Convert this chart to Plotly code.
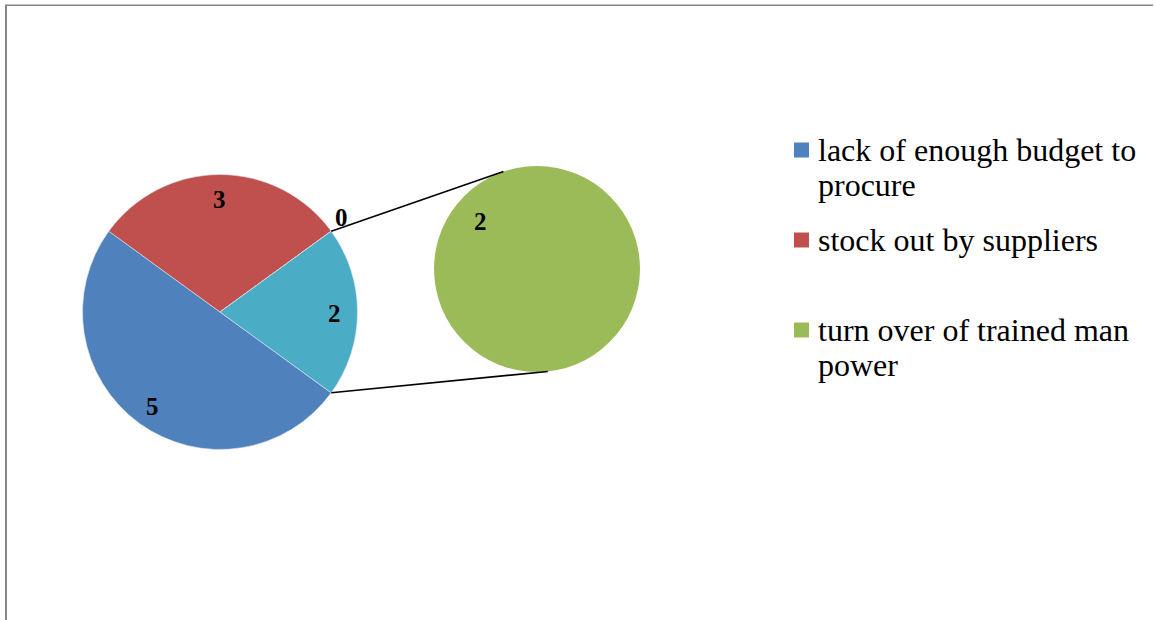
import math
import plotly.graph_objects as go

# Survey responses: reasons for stock-outs
categories = [
    "lack of enough budget to procure",
    "stock out by suppliers",
    "",
    "turn over of trained man power",
]
values = [5, 3, 0, 2]
n_secondary = 1  # last point(s) split off into the secondary pie

legend_lines = [
    ["lack of enough budget to", "procure"],
    ["stock out by suppliers"],
    [],
    ["turn over of trained man", "power"],
]

colors = ["#4F81BD", "#C0504D", "#FFFFFF", "#9BBB59"]
other_color = "#4BACC6"

W, H = 1154, 620

# pixel geometry of the two pies
main_c, main_r = (220, 312), 137.5
sec_c, sec_r = (537, 269), 103


def px(x):
    return x / W


def py(y):
    return 1 - y / H


def domain(c, r):
    return dict(x=[px(c[0] - r), px(c[0] + r)], y=[py(c[1] + r), py(c[1] - r)])


primary_vals = values[:-n_secondary]
secondary_vals = values[-n_secondary:]
other_val = sum(secondary_vals)
main_vals = primary_vals + [other_val]
main_cols = colors[:-n_secondary] + [other_color]
total = sum(main_vals)

# "Other" slice centred on 3 o'clock; angles clockwise from 12 o'clock
other_deg = other_val / total * 360
rotation = 90 + other_deg / 2

fig = go.Figure()
fig.add_trace(go.Pie(
    values=main_vals,
    labels=categories[:-n_secondary] + ["Other"],
    marker=dict(colors=main_cols, line=dict(width=0.6, color="#dfe6f0")),
    sort=False, direction="clockwise", rotation=rotation,
    textinfo="none", hoverinfo="label+value",
    domain=domain(main_c, main_r), showlegend=False,
))
fig.add_trace(go.Pie(
    values=secondary_vals,
    labels=categories[-n_secondary:],
    marker=dict(colors=colors[-n_secondary:], line=dict(width=0)),
    sort=False, direction="clockwise", rotation=0,
    textinfo="none", hoverinfo="label+value",
    domain=domain(sec_c, sec_r), showlegend=False,
))


def polar(c, r, ang_cw):
    a = math.radians(ang_cw)
    return c[0] + r * math.sin(a), c[1] - r * math.cos(a)


annotations = []
label_font = dict(family="Liberation Serif", size=25, color="black")


def add_label(x, y, v):
    annotations.append(dict(x=px(x), y=py(y + 2), xref="paper", yref="paper",
                            text=f"<b>{v}</b>", showarrow=False, font=label_font,
                            xanchor="center", yanchor="middle"))


# data labels on the main pie
start = rotation
for v in main_vals:
    span = v / total * 360
    if v == 0:
        # zero-width slice: label sits just outside the rim at its edge
        x, y = polar(main_c, main_r * 1.12, start - 2)
        y -= 2
    else:
        x, y = polar(main_c, main_r * 0.835, start + span / 2)
    add_label(x, y, v)
    start += span

# data labels on the secondary pie (single full slice)
for v in secondary_vals:
    x, y = polar(sec_c, sec_r * 0.72, -50)
    add_label(x, y - 2, v)

shapes = []

# connector lines from the "Other" slice edges to the secondary pie
p_top = polar(main_c, main_r, rotation - other_deg)
p_bot = polar(main_c, main_r, rotation)
q_top = polar(sec_c, sec_r, -19)
q_bot = polar(sec_c, sec_r, 174)
for p, q in [(p_top, q_top), (p_bot, q_bot)]:
    shapes.append(dict(type="line", xref="paper", yref="paper",
                       x0=px(p[0]), y0=py(p[1]), x1=px(q[0]), y1=py(q[1]),
                       line=dict(color="black", width=1.6)))

# legend: one swatch per category, text wrapped over up to two lines
leg_font = dict(family="Liberation Serif", size=32, color="black")
leg_y = 150
for i, lines in enumerate(legend_lines):
    if lines:
        shapes.append(dict(type="rect", xref="paper", yref="paper",
                           x0=px(794), x1=px(809), y0=py(leg_y - 7.5), y1=py(leg_y + 7.5),
                           fillcolor=colors[i], line=dict(width=0)))
    for j, t in enumerate(lines):
        base = leg_y + 10.5 + 35.5 * j
        annotations.append(dict(x=px(817), y=py(base - 10.8), xref="paper", yref="paper",
                                text=t, showarrow=False, font=leg_font,
                                xanchor="left", yanchor="middle", borderpad=0))
    leg_y += 45 * max(1, len(lines))

# chart-area border (top and left edges)
shapes.append(dict(type="line", xref="paper", yref="paper",
                   x0=px(5), x1=px(1153), y0=py(5.3), y1=py(5.3),
                   line=dict(color="#868686", width=1.5)))
shapes.append(dict(type="line", xref="paper", yref="paper",
                   x0=px(6), x1=px(6), y0=py(5), y1=py(620),
                   line=dict(color="#868686", width=2)))

fig.update_layout(
    width=W, height=H,
    margin=dict(l=0, r=0, t=0, b=0),
    paper_bgcolor="white", plot_bgcolor="white",
    annotations=annotations, shapes=shapes,
    showlegend=False,
)

fig.write_html("out.html")
